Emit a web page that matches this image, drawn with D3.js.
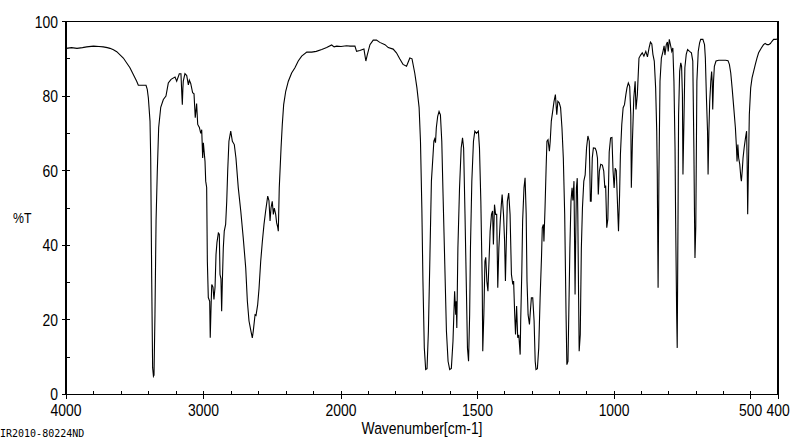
<!DOCTYPE html>
<html>
<head>
<meta charset="utf-8">
<script src="https://cdn.jsdelivr.net/npm/d3@7"></script>
<style>
  html, body { margin: 0; padding: 0; background: #fff; }
  svg { display: block; }
</style>
</head>
<body>
<svg id="chart" width="800" height="441"></svg>
<script>
// ---- data ----
const wavenumbers = [3998,3960,3920,3880,3850,3800,3760,3729,3700,3680,3655,3631,3583,3535,3486,3474,3418,3409,3401,3389,3384,3377,3370,3364,3360,3353,3345,3336,3326,3311,3292,3273,3256,3236,3207,3195,3176,3164,3157,3154,3150,3147,3135,3122,3110,3103,3093,3079,3069,3060,3050,3042,3030,3020,3013,3006,3001,2989,2984,2977,2972,2965,2955,2951,2945,2940,2931,2924,2916,2909,2902,2892,2885,2880,2873,2868,2863,2856,2849,2839,2831,2824,2815,2802,2790,2776,2764,2747,2729,2711,2693,2681,2669,2655,2645,2638,2625,2618,2606,2596,2584,2572,2560,2548,2533,2524,2516,2509,2500,2492,2485,2475,2468,2460,2456,2449,2436,2427,2417,2402,2383,2359,2335,2311,2286,2249,2213,2180,2140,2104,2068,2050,2031,2000,1980,1967,1949,1943,1931,1916,1909,1904,1894,1882,1870,1858,1839,1827,1809,1797,1785,1773,1760,1748,1740,1730,1722,1714,1709,1704,1700,1695,1690,1685,1680,1675,1669,1663,1660,1657,1654,1651,1646,1641,1636,1631,1627,1620,1614,1608,1602,1596,1590,1584,1580,1578,1576,1572,1566,1560,1555,1551,1546,1541,1537,1533,1529,1526,1521,1515,1510,1504,1497,1493,1488,1483,1481,1477,1473,1470,1466,1462,1459,1454,1449,1445,1442,1438,1434,1430,1426,1422,1417,1413,1410,1405,1401,1398,1395,1391,1386,1381,1376,1371,1368,1364,1361,1357,1353,1349,1344,1342,1338,1335,1330,1326,1322,1319,1315,1310,1307,1303,1298,1293,1289,1286,1281,1276,1271,1266,1263,1259,1257,1253,1249,1246,1242,1237,1234,1230,1225,1220,1215,1210,1206,1201,1196,1191,1186,1181,1176,1173,1169,1166,1162,1158,1154,1151,1147,1143,1141,1138,1135,1133,1130,1128,1124,1120,1116,1111,1106,1101,1096,1091,1087,1084,1080,1076,1069,1065,1061,1058,1054,1049,1043,1038,1034,1031,1027,1023,1018,1013,1008,1004,1000,996,992,988,984,980,977,972,967,962,957,953,948,943,939,937,933,928,923,920,915,909,903,897,891,884,878,872,867,862,858,853,848,844,842,839,836,832,827,821,817,814,809,805,802,798,793,789,785,781,777,775,771,769,766,764,760,756,753,750,748,744,741,736,731,724,717,712,708,706,704,701,697,692,687,683,675,669,666,662,658,656,653,650,646,643,641,639,636,633,627,617,605,592,583,578,573,568,562,556,552,550,547,544,540,536,534,531,528,524,519,515,513,511,508,505,500,495,489,483,477,471,461,453,447,440,434,428,422,416,408,402];
const transmittance = [92.8,93.0,92.8,93.0,93.2,93.4,93.3,93.2,93.0,92.8,92.4,91.9,90.2,87.6,84.0,82.9,82.9,81.8,79.5,73.3,63.5,32.0,7.2,4.9,5.2,21.4,46.5,59.9,71.6,77.0,79.1,80.0,83.5,84.5,85.1,84.0,86.0,86.0,80.0,77.7,82.0,84.0,86.0,85.5,83.0,84.3,83.4,80.9,80.6,74.2,78.0,72.4,71.6,70.0,71.0,63.4,67.5,62.5,57.2,55.5,35.7,26.0,25.0,15.2,23.5,29.5,28.8,25.5,28.8,37.5,40.8,43.3,43.0,32.2,31.0,22.3,30.0,39.3,43.8,45.6,51.8,59.9,67.9,70.6,67.9,67.0,63.4,55.4,49.2,42.0,34.0,25.0,19.7,17.0,15.2,17.0,21.4,21.2,24.1,28.5,35.7,41.0,45.6,49.2,53.2,52.0,46.5,50.0,51.8,48.3,50.0,48.3,46.0,44.8,43.8,55.4,66.1,72.4,77.7,81.3,84.0,86.2,87.6,89.4,90.7,91.8,91.8,92.0,92.5,93.0,93.7,93.2,93.4,93.3,93.5,93.4,93.4,92.0,92.2,92.6,89.4,91.0,93.8,95.0,95.0,94.4,93.8,93.0,92.6,91.6,90.0,88.5,88.0,90.2,90.0,86.2,82.2,76.9,67.9,50.0,30.4,12.5,6.7,6.9,17.0,34.9,57.2,64.3,67.9,68.5,67.5,71.5,74.6,75.9,75.0,67.9,55.4,34.9,17.0,8.9,6.7,7.0,14.3,27.7,21.4,25.0,17.8,39.3,55.4,66.1,68.8,66.0,48.3,28.6,12.5,8.9,21.4,39.3,57.2,67.9,70.6,70.0,70.6,66.1,51.8,30.4,11.6,21.4,35.7,36.8,30.4,27.7,33.9,43.8,48.3,49.2,40.2,50.9,48.3,48.3,28.6,39.3,46.5,50.9,53.6,48.3,41.0,30.4,40.0,51.8,54.0,48.3,32.2,29.5,30.4,21.4,16.1,23.7,15.2,16.0,10.7,20.0,33.0,46.5,55.4,58.1,48.3,30.4,21.4,18.8,22.0,25.9,25.9,19.7,8.9,6.7,6.9,12.5,25.9,36.6,44.7,45.6,41.0,50.0,60.7,67.9,68.3,65.2,67.9,73.3,75.9,78.6,80.4,75.0,78.6,78.2,76.9,71.5,63.4,48.3,21.4,8.0,8.9,21.4,39.3,51.8,55.4,52.0,57.2,26.8,40.0,55.4,58.0,48.3,25.9,11.6,16.0,39.3,50.0,57.2,58.9,66.1,69.3,67.9,51.8,51.8,63.4,66.1,66.0,65.2,63.4,53.6,59.9,61.7,61.5,59.9,55.4,56.0,44.7,47.0,65.0,68.8,68.9,60.0,55.4,60.7,60.0,51.8,43.8,53.6,64.3,72.4,76.9,77.7,80.4,82.2,83.5,82.6,75.0,55.4,67.9,79.5,84.0,76.4,80.4,90.2,91.0,91.6,90.7,92.0,90.5,92.9,94.5,94.0,91.2,89.4,82.2,70.6,59.0,28.6,59.0,84.0,90.2,92.0,93.5,91.0,93.8,94.5,92.0,95.2,93.5,92.0,92.9,84.0,66.1,48.3,21.4,12.5,48.3,75.0,86.7,88.9,88.0,80.4,59.0,75.0,87.6,91.2,92.5,92.0,91.6,89.4,66.1,50.0,36.6,45.0,84.0,92.0,94.3,95.2,95.2,93.8,90.2,79.5,70.6,59.0,70.6,78.6,84.0,86.6,84.0,76.4,84.0,88.0,89.4,89.6,89.6,89.6,89.5,88.5,86.2,82.2,76.9,71.5,66.1,62.5,67.0,63.4,61.7,58.1,57.2,59.9,63.4,66.1,68.8,70.6,62.5,48.3,62.0,75.0,82.2,84.9,86.7,88.5,90.2,91.6,92.9,93.8,94.1,93.8,93.8,94.1,94.7,95.2,95.2,95.3];

const xBreaks = [4000, 2000, 400];           // split wavenumber scale
const xMajorTicks = [4000, 3000, 2000, 1500, 1000, 500, 400];
const xMinorTicks = [3800,3600,3400,3200,2800,2600,2400,2200,1900,1800,1700,1600,1400,1300,1200,1100,900,800,700,600];
const yMajorTicks = [0, 20, 40, 60, 80, 100];
const yMinorTicks = [10, 30, 50, 70, 90];
const xLabel = "Wavenumber[cm-1]";
const yLabel = "%T";
const footnote = "IR2010-80224ND";

// ---- layout ----
const svg = d3.select("#chart");
const L = 66, R = 778, T = 21.5, B = 394.5;
const x = d3.scaleLinear().domain(xBreaks).range([L, 341, R]);
const y = d3.scaleLinear().domain([0, 100]).range([B, T]);

const font = "'Liberation Sans', Arial, sans-serif";
function label(g, px, py, txt, anchor, size) {
  g.append("text")
    .attr("transform", `translate(${px},${py}) scale(0.82,1)`)
    .attr("text-anchor", anchor)
    .attr("font-family", font)
    .attr("font-size", size)
    .attr("fill", "#000")
    .text(txt);
}

// frame
svg.append("rect")
  .attr("x", L).attr("y", T)
  .attr("width", R - L).attr("height", B - T)
  .attr("fill", "none").attr("stroke", "#000").attr("stroke-width", 1.3)
  .attr("shape-rendering", "crispEdges");

const axes = svg.append("g").attr("stroke", "#000").attr("stroke-width", 1)
  .attr("shape-rendering", "crispEdges");

// y ticks
yMajorTicks.forEach(v => {
  axes.append("line").attr("x1", L - 4).attr("x2", L + 4).attr("y1", y(v)).attr("y2", y(v));
});
yMinorTicks.forEach(v => {
  axes.append("line").attr("x1", L).attr("x2", L + 4).attr("y1", y(v)).attr("y2", y(v));
});
// x ticks
xMajorTicks.forEach(v => {
  axes.append("line").attr("x1", x(v)).attr("x2", x(v)).attr("y1", B - 4).attr("y2", B + 4);
});
xMinorTicks.forEach(v => {
  axes.append("line").attr("x1", x(v)).attr("x2", x(v)).attr("y1", B - 4).attr("y2", B);
});

const labels = svg.append("g");
yMajorTicks.forEach(v => label(labels, 58, y(v) + (v === 0 ? 5 : 6), String(v), "end", 17));
xMajorTicks.forEach(v => label(labels, x(v), 416, String(v), "middle", 17));
label(labels, 13, 223, yLabel, "start", 15);
label(labels, (L + R) / 2, 434, xLabel, "middle", 17);

svg.append("text")
  .attr("x", 0).attr("y", 437)
  .attr("font-family", "'DejaVu Sans Mono', monospace")
  .attr("font-size", 10)
  .attr("fill", "#000")
  .text(footnote);

// spectrum
const pts = wavenumbers.map((w, i) => [w, transmittance[i]]);
const line = d3.line().x(d => x(d[0])).y(d => y(d[1]));
svg.append("path")
  .datum(pts)
  .attr("d", line)
  .attr("fill", "none")
  .attr("stroke", "#000")
  .attr("stroke-width", 1.1)
  .attr("stroke-linejoin", "miter");
</script>
</body>
</html>
